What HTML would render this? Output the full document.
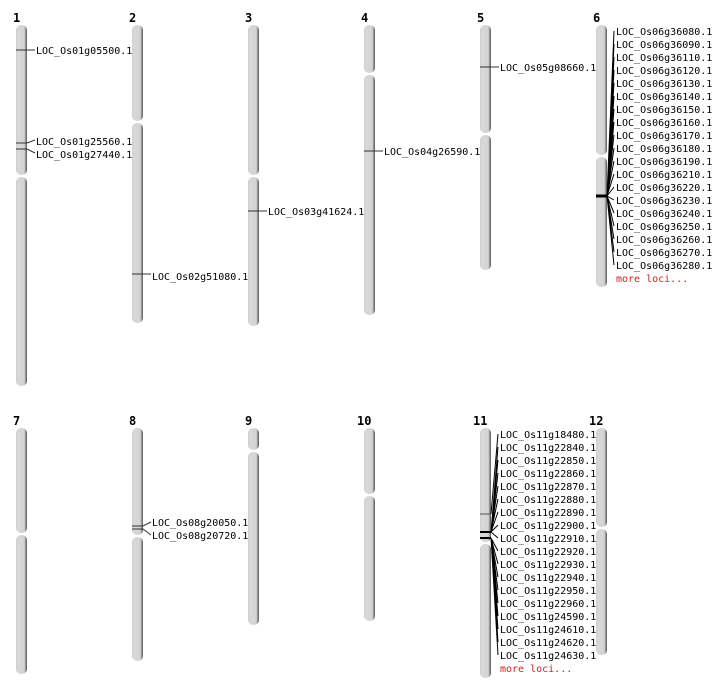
<!DOCTYPE html>
<html><head><meta charset="utf-8"><style>
html,body{margin:0;padding:0;background:#fff;width:712px;height:700px;overflow:hidden}
text{font-family:"DejaVu Sans Mono","Liberation Mono",monospace;font-size:10px;fill:#000}
.n{font-weight:bold;font-size:12px}
.m{fill:#d02020}
</style></head><body>
<svg width="712" height="700" xmlns="http://www.w3.org/2000/svg">
<defs>
<linearGradient id="g" x1="0" x2="1" y1="0" y2="0">
<stop offset="0" stop-color="#cfcfcf"/><stop offset="0.2" stop-color="#d8d8d8"/><stop offset="0.75" stop-color="#d4d4d4"/><stop offset="0.86" stop-color="#999"/><stop offset="1" stop-color="#555"/>
</linearGradient>
</defs>
<g fill="url(#g)">
<rect x="16" y="25" width="11" height="150" rx="5"/><rect x="16" y="177" width="11" height="209" rx="5"/>
<rect x="132" y="25" width="11" height="96" rx="5"/><rect x="132" y="123" width="11" height="200" rx="5"/>
<rect x="248" y="25" width="11" height="150" rx="5"/><rect x="248" y="177" width="11" height="149" rx="5"/>
<rect x="364" y="25" width="11" height="48" rx="5"/><rect x="364" y="75" width="11" height="240" rx="5"/>
<rect x="480" y="25" width="11" height="108" rx="5"/><rect x="480" y="135" width="11" height="135" rx="5"/>
<rect x="596" y="25" width="11" height="130" rx="5"/><rect x="596" y="157" width="11" height="130" rx="5"/>
<rect x="16" y="428" width="11" height="105" rx="5"/><rect x="16" y="535" width="11" height="139" rx="5"/>
<rect x="132" y="428" width="11" height="107" rx="5"/><rect x="132" y="537" width="11" height="124" rx="5"/>
<rect x="248" y="428" width="11" height="22" rx="5"/><rect x="248" y="452" width="11" height="173" rx="5"/>
<rect x="364" y="428" width="11" height="66" rx="5"/><rect x="364" y="496" width="11" height="125" rx="5"/>
<rect x="480" y="428" width="11" height="114" rx="5"/><rect x="480" y="544" width="11" height="134" rx="5"/>
<rect x="596" y="428" width="11" height="99" rx="5"/><rect x="596" y="529" width="11" height="126" rx="5"/>
</g>
<text class="n" x="13" y="22">1</text><text class="n" x="129" y="22">2</text><text class="n" x="245" y="22">3</text><text class="n" x="361" y="22">4</text><text class="n" x="477" y="22">5</text><text class="n" x="593" y="22">6</text>
<text class="n" x="13" y="425">7</text><text class="n" x="129" y="425">8</text><text class="n" x="245" y="425">9</text><text class="n" x="357" y="425">10</text><text class="n" x="473" y="425">11</text><text class="n" x="589" y="425">12</text>
<g stroke="#333" stroke-width="1" fill="none">
<path d="M16 50H35"/><path d="M16 143H27L35 140"/><path d="M16 149H27L35 153"/>
<path d="M132 274H151"/><path d="M248 211H267"/><path d="M364 151H383"/><path d="M480 67H499"/>
<path d="M132 526H143L151 522"/><path d="M132 529H143L151 535"/>
</g>
<text x="36" y="54">LOC_Os01g05500.1</text>
<text x="36" y="145">LOC_Os01g25560.1</text>
<text x="36" y="158">LOC_Os01g27440.1</text>
<text x="152" y="280">LOC_Os02g51080.1</text>
<text x="268" y="215">LOC_Os03g41624.1</text>
<text x="384" y="155">LOC_Os04g26590.1</text>
<text x="500" y="71">LOC_Os05g08660.1</text>
<text x="152" y="526">LOC_Os08g20050.1</text>
<text x="152" y="539">LOC_Os08g20720.1</text>
<path d="M596 196H607" stroke="#000" stroke-width="3"/>
<g stroke="#000" stroke-width="1" fill="none">
<path d="M607 196L614 31M607 196L614 44M607 196L614 57M607 196L614 70M607 196L614 83M607 196L614 96M607 196L614 109M607 196L614 122M607 196L614 135M607 196L614 148M607 196L614 161M607 196L614 174M607 196L614 187M607 196L614 200M607 196L614 213M607 196L614 226M607 196L614 239M607 196L614 252M607 196L614 265"/>
</g>
<text x="616" y="35">LOC_Os06g36080.1</text>
<text x="616" y="48">LOC_Os06g36090.1</text>
<text x="616" y="61">LOC_Os06g36110.1</text>
<text x="616" y="74">LOC_Os06g36120.1</text>
<text x="616" y="87">LOC_Os06g36130.1</text>
<text x="616" y="100">LOC_Os06g36140.1</text>
<text x="616" y="113">LOC_Os06g36150.1</text>
<text x="616" y="126">LOC_Os06g36160.1</text>
<text x="616" y="139">LOC_Os06g36170.1</text>
<text x="616" y="152">LOC_Os06g36180.1</text>
<text x="616" y="165">LOC_Os06g36190.1</text>
<text x="616" y="178">LOC_Os06g36210.1</text>
<text x="616" y="191">LOC_Os06g36220.1</text>
<text x="616" y="204">LOC_Os06g36230.1</text>
<text x="616" y="217">LOC_Os06g36240.1</text>
<text x="616" y="230">LOC_Os06g36250.1</text>
<text x="616" y="243">LOC_Os06g36260.1</text>
<text x="616" y="256">LOC_Os06g36270.1</text>
<text x="616" y="269">LOC_Os06g36280.1</text>
<text class="m" x="616" y="282">more loci...</text>
<path d="M480 514H491" stroke="#555" stroke-width="1"/>
<path d="M480 532H491M480 538H491" stroke="#000" stroke-width="2"/>
<g stroke="#000" stroke-width="1" fill="none">
<path d="M491 514L498 434M491 532L498 447M491 532L498 460M491 532L498 473M491 532L498 486M491 532L498 499M491 532L498 512M491 532L498 525M491 532L498 538M491 538L498 551M491 538L498 564M491 538L498 577M491 538L498 590M491 538L498 603M491 538L498 616M491 538L498 629M491 538L498 642M491 538L498 655"/>
</g>
<text x="500" y="438">LOC_Os11g18480.1</text>
<text x="500" y="451">LOC_Os11g22840.1</text>
<text x="500" y="464">LOC_Os11g22850.1</text>
<text x="500" y="477">LOC_Os11g22860.1</text>
<text x="500" y="490">LOC_Os11g22870.1</text>
<text x="500" y="503">LOC_Os11g22880.1</text>
<text x="500" y="516">LOC_Os11g22890.1</text>
<text x="500" y="529">LOC_Os11g22900.1</text>
<text x="500" y="542">LOC_Os11g22910.1</text>
<text x="500" y="555">LOC_Os11g22920.1</text>
<text x="500" y="568">LOC_Os11g22930.1</text>
<text x="500" y="581">LOC_Os11g22940.1</text>
<text x="500" y="594">LOC_Os11g22950.1</text>
<text x="500" y="607">LOC_Os11g22960.1</text>
<text x="500" y="620">LOC_Os11g24590.1</text>
<text x="500" y="633">LOC_Os11g24610.1</text>
<text x="500" y="646">LOC_Os11g24620.1</text>
<text x="500" y="659">LOC_Os11g24630.1</text>
<text class="m" x="500" y="672">more loci...</text>
</svg>
</body></html>
